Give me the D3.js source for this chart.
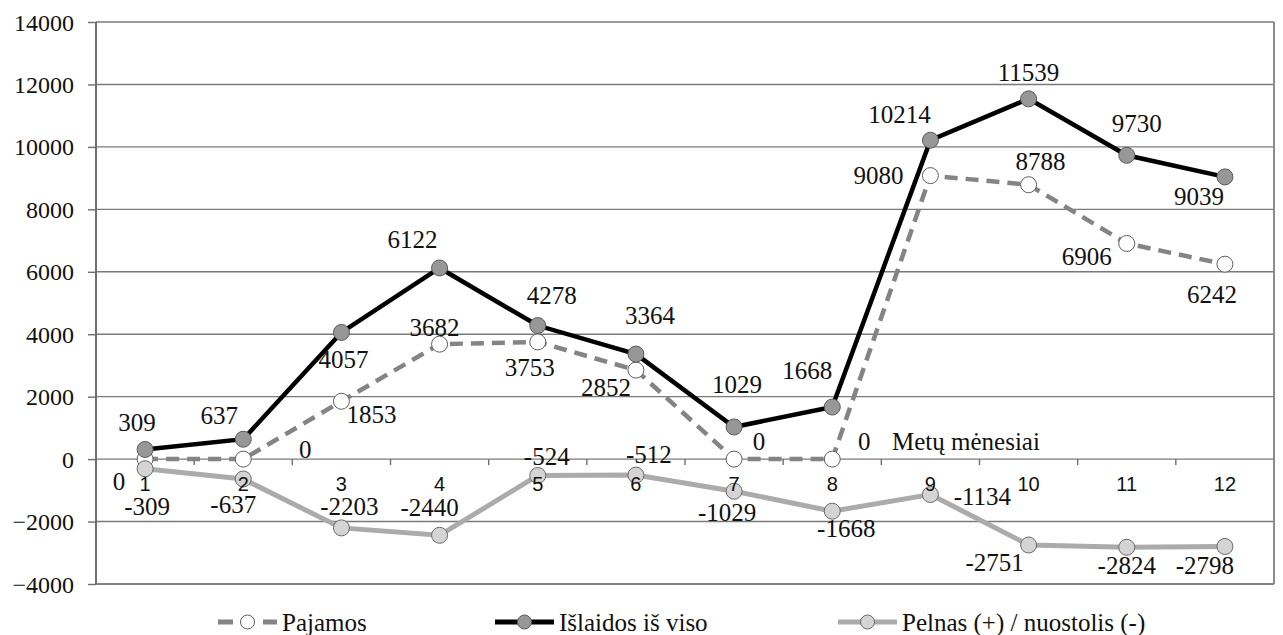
<!DOCTYPE html>
<html>
<head>
<meta charset="utf-8">
<script src="https://cdn.jsdelivr.net/npm/d3@7/dist/d3.min.js"></script>
<style>
  html, body { margin: 0; padding: 0; background: #fff; }
  svg { display: block; }
  .serif { font-family: "Liberation Serif", "DejaVu Serif", serif; fill: #111; }
  .sans { font-family: "Liberation Sans", Arial, sans-serif; fill: #111; }
</style>
</head>
<body>
<svg id="chart" width="1283" height="635"></svg>
<script>
// Months of the year
const months = [1, 2, 3, 4, 5, 6, 7, 8, 9, 10, 11, 12];

// Income, total expenses and profit/loss per month
const pajamos  = [0, 0, 1853, 3682, 3753, 2852, 0, 0, 9080, 8788, 6906, 6242];
const islaidos = [309, 637, 4057, 6122, 4278, 3364, 1029, 1668, 10214, 11539, 9730, 9039];
const pelnas   = [-309, -637, -2203, -2440, -524, -512, -1029, -1668, -1134, -2751, -2824, -2798];

// Value axis ticks
const yTicks = [-4000, -2000, 0, 2000, 4000, 6000, 8000, 10000, 12000, 14000];

// Series names for the legend
const seriesNames = ["Pajamos", "Išlaidos iš viso", "Pelnas (+) / nuostolis (-)"];
const axisTitle = "Metų mėnesiai";

// Label placement offsets (dx, dy) relative to each point
const offPajamos  = [[-26, 22], [62, -10], [30, 13], [-5, -17], [-8, 26], [-30, 17],
                     [25, -18], [32, -18], [-52, 0], [12, -23], [-40, 13], [-13, 30]];
const offIslaidos = [[-8, -27], [-24, -24], [2, 27], [-27, -28], [14, -30], [14, -39],
                     [3, -42], [-25, -37], [-31, -26], [0, -26], [10, -32], [-26, 20]];
const offPelnas   = [[2, 38], [-10, 26], [8, -21], [-10, -28], [9, -19], [13, -21],
                     [-7, 21], [14, 17], [52, 2], [-34, 17], [0, 18], [-20, 19]];

const svg = d3.select("#chart");

const plot = { left: 96, right: 1274, top: 22, bottom: 584 };

const x = d3.scaleBand().domain(months).range([plot.left, plot.right]).padding(0);
const y = d3.scaleLinear().domain([-4000, 14000]).range([plot.bottom, plot.top]);
const cx = m => x(m) + x.bandwidth() / 2;

// Horizontal gridlines
svg.append("g").selectAll("line").data(yTicks).join("line")
  .attr("x1", plot.left).attr("x2", plot.right)
  .attr("y1", d => y(d)).attr("y2", d => y(d))
  .attr("stroke", "#7a7a7a").attr("stroke-width", 1.4);

// Plot frame (left axis, right and bottom edges)
svg.append("line").attr("x1", plot.left).attr("x2", plot.left)
  .attr("y1", plot.top).attr("y2", plot.bottom)
  .attr("stroke", "#6e6e6e").attr("stroke-width", 2);
svg.append("line").attr("x1", plot.right).attr("x2", plot.right)
  .attr("y1", plot.top).attr("y2", plot.bottom)
  .attr("stroke", "#8c8c8c").attr("stroke-width", 2);
svg.append("line").attr("x1", plot.left).attr("x2", plot.right)
  .attr("y1", plot.bottom).attr("y2", plot.bottom)
  .attr("stroke", "#7a7a7a").attr("stroke-width", 1.6);

// Value axis ticks and labels
const yAxis = d3.axisLeft(y).tickValues(yTicks).tickSize(8).tickPadding(14).tickFormat(d3.format("d"));
const gy = svg.append("g").attr("transform", `translate(${plot.left},0)`).call(yAxis)
  .attr("font-family", null).attr("font-size", null);
gy.select(".domain").remove();
gy.selectAll(".tick line").attr("stroke", "#6e6e6e").attr("stroke-width", 1.4);
gy.selectAll(".tick text")
  .attr("class", "serif").style("font-size", "24px").attr("fill", "#111")
  .attr("dy", null).attr("y", 8);

// Category axis along the zero line: ticks at band boundaries
const boundaries = months.slice(1).map(m => x(m));
svg.append("g").selectAll("line").data(boundaries).join("line")
  .attr("x1", d => d).attr("x2", d => d)
  .attr("y1", y(0)).attr("y2", y(0) + 6)
  .attr("stroke", "#6e6e6e").attr("stroke-width", 1.4);

// Line generator
const line = d3.line().x((d, i) => cx(months[i])).y(d => y(d));

// Income (dashed grey, white markers)
svg.append("path").datum(pajamos).attr("d", line)
  .attr("fill", "none").attr("stroke", "#848484").attr("stroke-width", 4.5)
  .attr("stroke-dasharray", "13,8");
svg.append("g").selectAll("circle").data(pajamos).join("circle")
  .attr("cx", (d, i) => cx(months[i])).attr("cy", d => y(d)).attr("r", 8)
  .attr("fill", "#fff").attr("stroke", "#5e5e5e").attr("stroke-width", 1);

// Expenses (solid black, grey markers)
svg.append("path").datum(islaidos).attr("d", line)
  .attr("fill", "none").attr("stroke", "#000").attr("stroke-width", 4.5);
svg.append("g").selectAll("circle").data(islaidos).join("circle")
  .attr("cx", (d, i) => cx(months[i])).attr("cy", d => y(d)).attr("r", 8)
  .attr("fill", "#979797").attr("stroke", "#5a5a5a").attr("stroke-width", 1);

// Profit / loss (light grey line and markers)
svg.append("path").datum(pelnas).attr("d", line)
  .attr("fill", "none").attr("stroke", "#ababab").attr("stroke-width", 5);
svg.append("g").selectAll("circle").data(pelnas).join("circle")
  .attr("cx", (d, i) => cx(months[i])).attr("cy", d => y(d)).attr("r", 8)
  .attr("fill", "#d4d4d4").attr("stroke", "#6a6a6a").attr("stroke-width", 1);

// Category labels
svg.append("g").selectAll("text").data(months).join("text")
  .attr("class", "sans")
  .attr("x", d => cx(d)).attr("y", y(0) + 32)
  .attr("text-anchor", "middle")
  .style("font-size", "20px")
  .text(d => d);

// Axis title
svg.append("text").attr("class", "serif")
  .attr("x", 892).attr("y", y(0) - 9)
  .style("font-size", "25px")
  .text(axisTitle);

// Data labels
function labels(values, offsets) {
  svg.append("g").selectAll("text").data(values).join("text")
    .attr("class", "serif")
    .attr("x", (d, i) => cx(months[i]) + offsets[i][0])
    .attr("y", (d, i) => y(d) + offsets[i][1] + 8.5)
    .attr("text-anchor", "middle")
    .style("font-size", "25px")
    .text(d => d);
}
labels(pajamos, offPajamos);
labels(islaidos, offIslaidos);
labels(pelnas, offPelnas);

// Legend
const legendY = 622;
const legend = [
  { name: seriesNames[0], x0: 218, stroke: "#848484", dash: "15,30", fill: "#fff", mstroke: "#5e5e5e", w: 5 },
  { name: seriesNames[1], x0: 495, stroke: "#000", dash: null, fill: "#979797", mstroke: "#5a5a5a", w: 5 },
  { name: seriesNames[2], x0: 838, stroke: "#ababab", dash: null, fill: "#d4d4d4", mstroke: "#6a6a6a", w: 5 }
];
const lg = svg.append("g").selectAll("g").data(legend).join("g");
lg.append("line")
  .attr("x1", d => d.x0).attr("x2", d => d.x0 + 59)
  .attr("y1", legendY).attr("y2", legendY)
  .attr("stroke", d => d.stroke).attr("stroke-width", d => d.w)
  .attr("stroke-dasharray", d => d.dash);
lg.append("circle")
  .attr("cx", d => d.x0 + 29.5).attr("cy", legendY).attr("r", 7)
  .attr("fill", d => d.fill).attr("stroke", d => d.mstroke).attr("stroke-width", 1);
lg.append("text")
  .attr("class", "serif")
  .attr("x", d => d.x0 + 64).attr("y", legendY + 8.5)
  .style("font-size", "25px")
  .text(d => d.name);
</script>
</body>
</html>
